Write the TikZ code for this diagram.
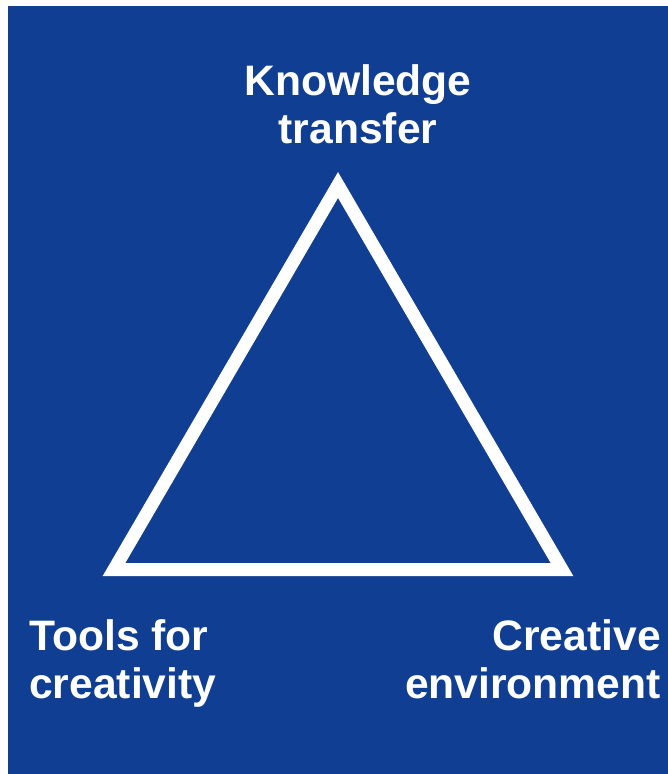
\documentclass[tikz,border=0pt]{standalone}
\usepackage{fontspec}
\setmainfont{Liberation Sans}
\usepackage{xcolor}
\definecolor{panelblue}{RGB}{15,62,146}
\usepackage{tikz}
\usetikzlibrary{positioning}

\begin{document}
\begin{tikzpicture}[
  x={(0.025cm,0)}, y={(0,-0.025cm)},
  etiqueta/.style={
    text=white, inner sep=0pt, font=\fontsize{30.3pt}{34.3pt}\selectfont\bfseries
  },
  lado/.style={draw=white, line width=9.25pt, line join=miter},
]

%% Fondo
\useasboundingbox (0,0) rectangle (668,774);
\fill[white] (0,0) rectangle (668,774);
\fill[panelblue] (8,6) rectangle (668,774);

%% Triangulo
\coordinate (apex)  at (338,185);
\coordinate (izq)   at (114,569.5);
\coordinate (der)   at (562,569.5);
\draw[lado] (apex) -- (izq) -- (der) -- cycle;

%% Etiquetas
\node[etiqueta, align=center, anchor=north] (saber)   at (358,64)  {Knowledge\\transfer};
\node[etiqueta, align=left,   anchor=north west] (herram) at (29,619) {Tools for\\creativity};
\node[etiqueta, align=right,  anchor=north east] (entorno) at (661,619) {Creative\\environment};

\end{tikzpicture}
\end{document}
